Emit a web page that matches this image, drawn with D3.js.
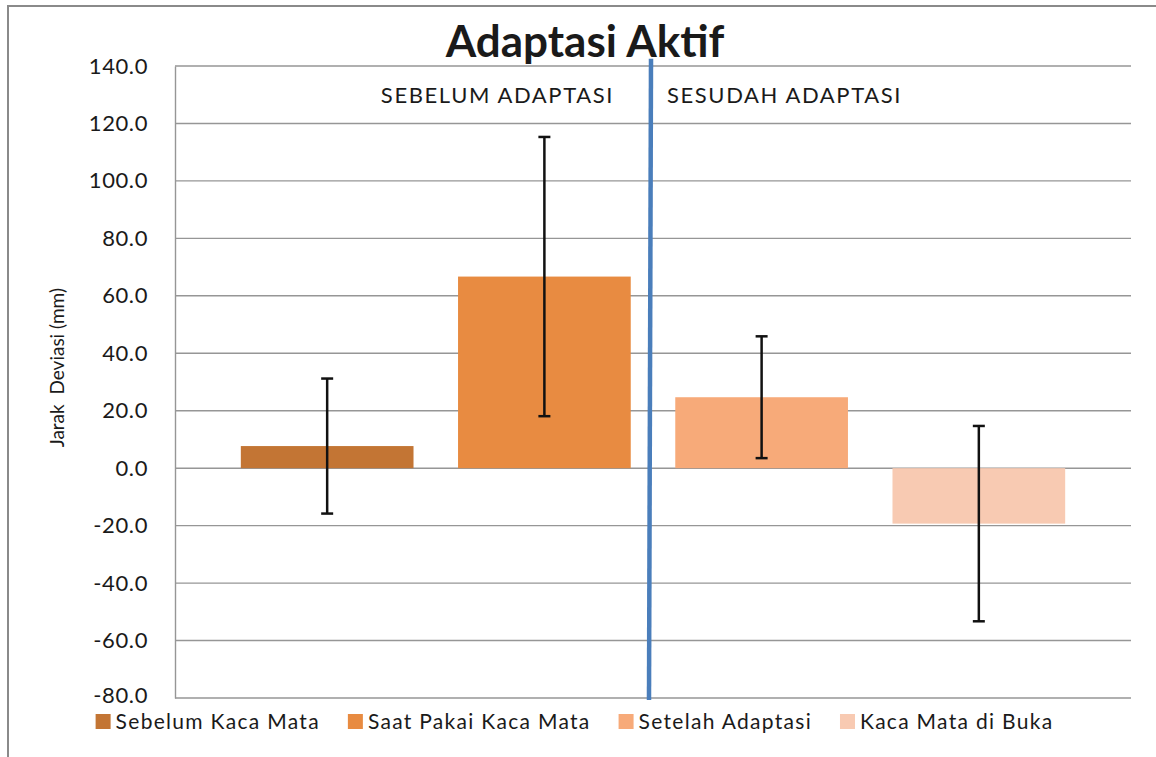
<!DOCTYPE html>
<html>
<head>
<meta charset="utf-8">
<script src="https://cdn.jsdelivr.net/npm/d3@7"></script>
<style>
  body { margin: 0; background: #fff; }
  svg text { font-family: Lato, "Open Sans", sans-serif; fill: #1a1a1a; }
</style>
</head>
<body>
<div id="chart"></div>
<script>
// chart data
var seriesNames = ["Sebelum Kaca Mata", "Saat Pakai Kaca Mata", "Setelah Adaptasi", "Kaca Mata di Buka"];
var meanValues = [7.7, 66.7, 24.7, -19.3];
var errValues = [23.5, 48.6, 21.2, 34.0];
var seriesColors = ["#c37534", "#e88b41", "#f7aa79", "#f8cab2"];
var yTicks = [-80, -60, -40, -20, 0, 20, 40, 60, 80, 100, 120, 140];
var phaseLabels = ["SEBELUM ADAPTASI", "SESUDAH ADAPTASI"];

var width = 1156, height = 757;
var margin = {left: 175, right: 25, top: 66, bottom: 59};

var svg = d3.select("#chart").append("svg")
    .attr("width", width).attr("height", height);

// outer chart frame
svg.append("rect")
    .attr("x", 8).attr("y", 6)
    .attr("width", width + 20).attr("height", height + 20)
    .attr("fill", "none").attr("stroke", "#8a8a8a").attr("stroke-width", 2);

var x = d3.scaleBand()
    .domain(seriesNames)
    .range([margin.left, width - margin.right])
    .paddingInner(0.205)
    .paddingOuter(0.303);

var y = d3.scaleLinear()
    .domain([-80, 140])
    .range([height - margin.bottom, margin.top]);

// gridlines
svg.append("g").selectAll("line").data(yTicks).enter().append("line")
    .attr("x1", margin.left).attr("x2", width - margin.right)
    .attr("y1", d => y(d)).attr("y2", d => y(d))
    .attr("stroke", "#969696").attr("stroke-width", 1.4);

// y axis
var fmt = d3.format(".1f");
var yAxis = svg.append("g")
    .attr("transform", "translate(" + margin.left + ",0)")
    .call(d3.axisLeft(y).tickValues(yTicks)
        .tickFormat(d => fmt(d).replace("\u2212", "-"))
        .tickSize(0).tickPadding(27));
yAxis.select(".domain").attr("stroke", "#969696").attr("stroke-width", 1.4);
yAxis.selectAll("text")
    .style("font-family", "Lato, sans-serif")
    .style("font-size", "22px")
    .style("letter-spacing", "0.6px")
    .attr("fill", "#1a1a1a");
// lowest label sits a touch higher so it clears the legend
yAxis.selectAll(".tick").filter(d => d === yTicks[0]).select("text").attr("dy", "0.2em");

svg.append("text")
    .attr("transform", "translate(64," + y(35) + ") rotate(-90)")
    .attr("text-anchor", "middle")
    .style("font-size", "19px")
    .text("Jarak\u00a0\u00a0Deviasi (mm)");

// bars
svg.append("g").selectAll("rect").data(seriesNames).enter().append("rect")
    .attr("x", d => x(d))
    .attr("width", x.bandwidth())
    .attr("y", (d, i) => y(Math.max(0, meanValues[i])))
    .attr("height", (d, i) => Math.abs(y(meanValues[i]) - y(0)))
    .attr("fill", (d, i) => seriesColors[i]);

// error bars
var eb = svg.append("g").selectAll("g").data(seriesNames).enter().append("g")
    .attr("stroke", "#111").attr("stroke-width", 2.5);
eb.append("line")
    .attr("x1", d => x(d) + x.bandwidth() / 2).attr("x2", d => x(d) + x.bandwidth() / 2)
    .attr("y1", (d, i) => y(meanValues[i] + errValues[i]))
    .attr("y2", (d, i) => y(meanValues[i] - errValues[i]));
[1, -1].forEach(function(s) {
    eb.append("line")
        .attr("x1", d => x(d) + x.bandwidth() / 2 - 6).attr("x2", d => x(d) + x.bandwidth() / 2 + 6)
        .attr("y1", (d, i) => y(meanValues[i] + s * errValues[i]))
        .attr("y2", (d, i) => y(meanValues[i] + s * errValues[i]));
});

// divider between phases
var divX = (x(seriesNames[1]) + x.bandwidth() + x(seriesNames[2])) / 2 - 3;
svg.append("line")
    .attr("x1", divX + 1).attr("x2", divX - 1)
    .attr("y1", y(142.5)).attr("y2", y(-80.7))
    .attr("stroke", "#4a7ebb").attr("stroke-width", 4.5);

svg.append("text")
    .attr("x", divX - 36).attr("y", y(127))
    .attr("text-anchor", "end")
    .style("font-size", "22px")
    .style("letter-spacing", "1.6px")
    .attr("fill", "#222")
    .text(phaseLabels[0]);
svg.append("text")
    .attr("x", divX + 17).attr("y", y(127))
    .attr("text-anchor", "start")
    .style("font-size", "22px")
    .style("letter-spacing", "1.6px")
    .attr("fill", "#222")
    .text(phaseLabels[1]);

// title
svg.append("text")
    .attr("x", 585).attr("y", 57)
    .attr("text-anchor", "middle")
    .style("font-size", "44px")
    .style("font-weight", "bold")
    .attr("fill", "#000")
    .text("Adaptasi Aktif");

// legend
var legend = svg.append("g");
var lx = 0;
seriesNames.forEach(function(name, i) {
    var item = legend.append("g").attr("transform", "translate(" + lx + ",0)");
    item.append("rect").attr("x", 0).attr("y", -15).attr("width", 15).attr("height", 15)
        .attr("fill", seriesColors[i]);
    var t = item.append("text").attr("x", 20).attr("y", 0)
        .style("font-size", "21px").style("letter-spacing", "1.3px")
        .attr("fill", "#222").text(name);
    lx += 20 + t.node().getComputedTextLength() + 28;
});
var legendW = lx - 28;
legend.attr("transform", "translate(" + (574.5 - legendW / 2) + ",729)");
</script>
</body>
</html>
